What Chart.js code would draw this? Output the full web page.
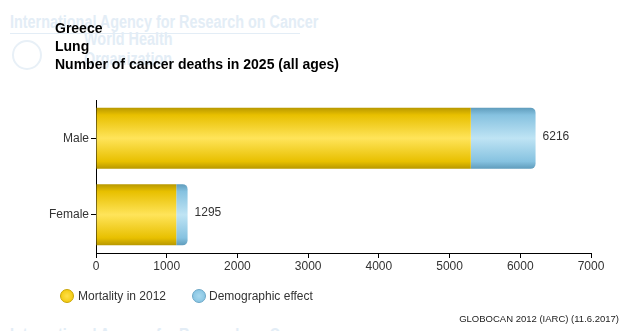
<!DOCTYPE html>
<html>
<head>
<meta charset="utf-8">
<script src="https://cdn.jsdelivr.net/npm/chart.js@4/dist/chart.umd.min.js"></script>
<style>
  html,body{margin:0;padding:0;background:#fff;}
  #wrap{position:relative;width:629px;height:331px;overflow:hidden;font-family:"Liberation Sans",Arial,sans-serif;}
  canvas{position:absolute;left:0;top:0;}
  .wm{position:absolute;color:#e3edf6;font-weight:bold;font-size:17px;white-space:nowrap;transform-origin:0 0;transform:scaleX(0.8);}
  .title{position:absolute;left:55px;font-weight:bold;font-size:14px;color:#000;white-space:nowrap;}
  .leg{position:absolute;top:289px;font-size:12px;color:#333;white-space:nowrap;}
  .dot{position:absolute;width:12px;height:12px;border-radius:50%;top:289px;}
  .foot{position:absolute;right:10px;top:313px;font-size:9.5px;color:#222;}
</style>
</head>
<body>
<div id="wrap">
  <div class="wm" style="left:10px;top:12px;font-size:18px;">International Agency for Research on Cancer</div>
  <div style="position:absolute;left:10px;top:33px;width:290px;height:1px;background:#e3edf6;"></div>
  <div style="position:absolute;left:12px;top:40px;width:26px;height:26px;border-radius:50%;border:2px solid #e8f0f7;"></div>
  <div class="wm" style="left:84px;top:29px;font-size:18px;">World Health</div>
  <div class="wm" style="left:84px;top:49px;font-size:18px;">Organization</div>
  <div class="wm" style="left:10px;top:325px;font-size:18px;">International Agency for Research on Cancer</div>
  <canvas id="c" width="629" height="331"></canvas>
  <div class="title" style="top:20px;">Greece</div>
  <div class="title" style="top:38px;">Lung</div>
  <div class="title" style="top:56px;">Number of cancer deaths in 2025 (all ages)</div>
  <div class="dot" style="left:60px;background:radial-gradient(circle at 50% 50%,#ffe04a,#f0c400);border:1px solid #c9a400;"></div>
  <div class="leg" style="left:78px;">Mortality in 2012</div>
  <div class="dot" style="left:192px;background:radial-gradient(circle at 50% 50%,#a8d8ee,#7fc0e0);border:1px solid #6aa6c6;"></div>
  <div class="leg" style="left:209px;">Demographic effect</div>
  <div class="foot">GLOBOCAN 2012 (IARC) (11.6.2017)</div>
</div>
<script>
const categories = ["Male", "Female"];
const mortality2012 = [5300, 1135];
const demographicEffect = [916, 160];
const totals = [6216, 1295];
const xTicks = [0, 1000, 2000, 3000, 4000, 5000, 6000, 7000];

function grad(ctx, stops) {
  const chart = ctx.chart;
  const area = chart.chartArea;
  if (!area) return stops[2];
  const y = chart.scales.y;
  const c = y.getPixelForValue(ctx.dataIndex);
  const h = 61;
  const g = chart.ctx.createLinearGradient(0, c - h / 2, 0, c + h / 2);
  g.addColorStop(0, stops[0]);
  g.addColorStop(0.12, stops[1]);
  g.addColorStop(0.5, stops[2]);
  g.addColorStop(0.88, stops[1]);
  g.addColorStop(1, stops[0]);
  return g;
}

const labelPlugin = {
  id: 'totLabels',
  afterDatasetsDraw(chart) {
    const meta = chart.getDatasetMeta(1);
    const ctx = chart.ctx;
    ctx.save();
    ctx.font = '12px "Liberation Sans", Arial, sans-serif';
    ctx.fillStyle = '#333';
    ctx.textBaseline = 'middle';
    meta.data.forEach((bar, i) => {
      ctx.fillText(String(totals[i]), bar.x + 7, bar.y - 2);
    });
    ctx.restore();
  }
};

const fontSpec = {family: '"Liberation Sans", Arial, sans-serif', size: 12};

new Chart(document.getElementById('c'), {
  type: 'bar',
  data: {
    labels: categories,
    datasets: [
      {
        label: 'Mortality in 2012',
        data: mortality2012,
        backgroundColor: (ctx) => grad(ctx, ['#b89800', '#e8c000', '#ffe45a']),
        borderWidth: 0
      },
      {
        label: 'Demographic effect',
        data: demographicEffect,
        backgroundColor: (ctx) => grad(ctx, ['#5f9cbc', '#86c2e0', '#bfe4f4']),
        borderWidth: 0,
        borderRadius: {topRight: 5, bottomRight: 5},
        borderSkipped: false
      }
    ]
  },
  options: {
    indexAxis: 'y',
    responsive: false,
    animation: false,
    devicePixelRatio: 1,
    layout: {padding: {top: 100, right: 38, left: 0, bottom: 0}},
    plugins: {legend: {display: false}, tooltip: {enabled: false}},
    datasets: {bar: {barPercentage: 0.8, categoryPercentage: 1.0}},
    scales: {
      x: {
        stacked: true,
        min: 0,
        max: 7000,
        afterBuildTicks: (s) => { s.ticks = xTicks.map(v => ({value: v})); },
        afterFit: (s) => { s.height = 78; },
        grid: {display: true, drawOnChartArea: false, drawTicks: true, tickLength: 5, color: '#000'},
        border: {display: true, color: '#000', width: 1},
        ticks: {color: '#333', font: fontSpec, padding: 1, maxRotation: 0, callback: (v) => String(v)}
      },
      y: {
        stacked: true,
        afterFit: (s) => { s.width = 96; },
        grid: {display: true, offset: false, drawOnChartArea: false, drawTicks: true, tickLength: 5, color: '#000'},
        border: {display: true, color: '#000', width: 1},
        ticks: {color: '#333', font: fontSpec, padding: 2}
      }
    }
  },
  plugins: [labelPlugin]
});
</script>
</body>
</html>
